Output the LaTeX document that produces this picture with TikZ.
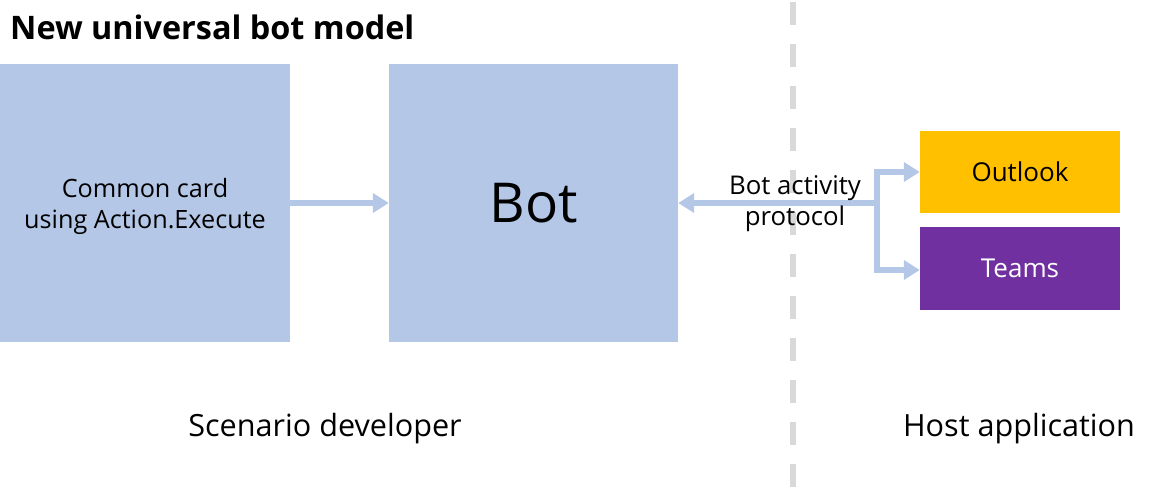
\documentclass[tikz,border=0pt]{standalone}
\usepackage{fontspec}
\setmainfont{Open Sans}
\usetikzlibrary{arrows.meta}
\definecolor{boxblue}{HTML}{B4C7E7}
\definecolor{outlookc}{HTML}{FFC000}
\definecolor{teamsc}{HTML}{7030A0}
\definecolor{dashgray}{HTML}{D9D9D9}
\begin{document}
\begin{tikzpicture}[x=1pt,y=-1pt,
  blockbox/.style={fill=boxblue, draw=none, inner sep=0pt, align=center, font=\fontsize{25.2}{31}\selectfont},
  hostbox/.style={draw=none, inner sep=0pt, minimum width=200pt, font=\fontsize{26}{30}\selectfont},
  conn/.style={draw=boxblue, line width=6pt, -{Triangle[length=16pt,width=19pt]}},
  plain/.style={inner sep=0pt, font=\fontsize{30.6}{36}\selectfont}
]
\useasboundingbox (0,0) rectangle (1153,500);
% divider
\coordinate (dtop) at (793,2);
\coordinate (dbot) at (793,490);
\draw[dashgray, line width=6pt, dash pattern=on 23pt off 19pt] (dtop) -- (dbot);
% title
\node[anchor=west, inner sep=0pt, font=\fontsize{32.4}{38}\bfseries] (title) at (10,27) {New universal bot model};
% boxes
\node[blockbox, minimum width=290pt, minimum height=278pt] (card) at (145,203) {};
\node[inner sep=0pt, align=center, font=\fontsize{25.2}{31}\selectfont] (cardtext) at (145,206) {Common card\\using Action.Execute};
\node[blockbox, minimum width=289pt, minimum height=278pt, font=\fontsize{55}{62}\selectfont] (bot) at (533.5,203) {Bot};
\node[hostbox, fill=outlookc, minimum height=82pt] (outlook) at (1020,172) {Outlook};
\node[hostbox, fill=teamsc, text=white, minimum height=83pt] (teams) at (1020,268.5) {Teams};
% connectors
\draw[conn] (card.east) -- (bot.west);
\coordinate (junc) at (877,203);
\coordinate (jtop) at (877,172);
\coordinate (jbot) at (877,270);
\draw[conn] (junc) -- (bot.east);
\draw[conn] (jbot) -- (jtop) -- (outlook.west);
\draw[conn] (jtop) -- (jbot) -- (jbot -| teams.west);
% label
\node[inner sep=0pt, align=center, font=\fontsize{25.8}{31}\selectfont] (proto) at (795,204) {Bot activity\\protocol};
% bottom labels
\node[plain] (dev) at (325,429) {Scenario developer};
\node[plain] (host) at (1019,429) {Host application};
\end{tikzpicture}
\end{document}
